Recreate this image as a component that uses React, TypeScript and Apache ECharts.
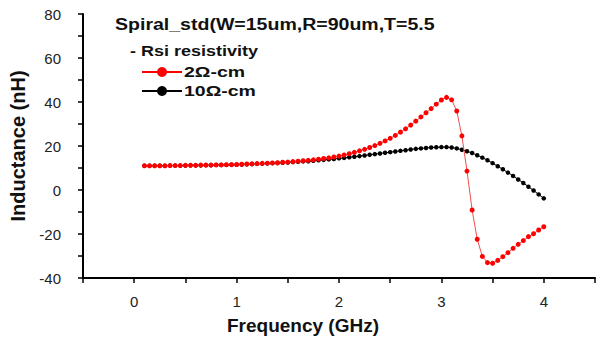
import React, { useEffect, useRef } from "react";
import * as echarts from "echarts";

const freqs = [
  0.1, 0.15, 0.2, 0.25, 0.3, 0.35, 0.4, 0.45, 0.5, 0.55,
  0.6, 0.65, 0.7, 0.75, 0.8, 0.85, 0.9, 0.95, 1.0, 1.05,
  1.1, 1.15, 1.2, 1.25, 1.3, 1.35, 1.4, 1.45, 1.5, 1.55,
  1.6, 1.65, 1.7, 1.75, 1.8, 1.85, 1.9, 1.95, 2.0, 2.05,
  2.1, 2.15, 2.2, 2.25, 2.3, 2.35, 2.4, 2.45, 2.5, 2.55,
  2.6, 2.65, 2.7, 2.75, 2.8, 2.85, 2.9, 2.95, 3.0, 3.05,
  3.1, 3.15, 3.2, 3.25, 3.3, 3.35, 3.4, 3.45, 3.5, 3.55,
  3.6, 3.65, 3.7, 3.75, 3.8, 3.85, 3.9, 3.95, 4.0,
];

// Inductance (nH), Rsi = 2 ohm-cm
const ind2 = [
  11.0, 11.0, 11.0, 11.0, 11.0, 11.1, 11.1, 11.1, 11.2, 11.2,
  11.2, 11.3, 11.3, 11.3, 11.4, 11.4, 11.5, 11.5, 11.6, 11.7,
  11.8, 11.9, 12.0, 12.1, 12.2, 12.3, 12.4, 12.6, 12.7, 12.9,
  13.1, 13.3, 13.5, 13.7, 14.0, 14.3, 14.6, 15.0, 15.4, 15.9,
  16.5, 17.1, 17.8, 18.5, 19.3, 20.2, 21.2, 22.3, 23.5, 24.8,
  26.3, 27.8, 29.5, 31.3, 33.2, 35.1, 37.0, 39.0, 40.9, 42.1,
  41.0, 35.9, 24.6, 8.6, -9.1, -22.4, -30.2, -33.0, -33.3, -32.0,
  -30.3, -28.5, -26.5, -24.7, -23.0, -21.2, -19.9, -18.2, -16.7,
];

// Inductance (nH), Rsi = 10 ohm-cm
const ind10 = [
  11.0, 11.0, 11.0, 11.0, 11.0, 11.1, 11.1, 11.1, 11.1, 11.2,
  11.2, 11.2, 11.3, 11.3, 11.4, 11.4, 11.4, 11.5, 11.5, 11.6,
  11.7, 11.8, 11.9, 12.0, 12.1, 12.2, 12.3, 12.4, 12.5, 12.7,
  12.8, 13.0, 13.1, 13.3, 13.5, 13.7, 13.9, 14.1, 14.4, 14.6,
  14.9, 15.1, 15.4, 15.7, 16.0, 16.3, 16.6, 16.9, 17.2, 17.5,
  17.8, 18.1, 18.4, 18.7, 18.9, 19.1, 19.3, 19.4, 19.5, 19.5,
  19.3, 18.9, 18.3, 17.6, 16.8, 15.8, 14.7, 13.5, 12.2, 10.8,
  9.4, 7.9, 6.4, 4.8, 3.2, 1.5, -0.2, -2.0, -3.8,
];

const seriesNames = ["2Ω-cm", "10Ω-cm"];
const titleText = "Spiral_std(W=15um,R=90um,T=5.5";
const subtitleText = "- Rsi resistivity";
const xTickLabels = [0, 1, 2, 3, 4];
const yTickLabels = [-40, -20, 0, 20, 40, 60, 80];

const FONT = "'Liberation Sans', Arial, sans-serif";

export default function App() {
  const ref = useRef<HTMLDivElement>(null);

  useEffect(() => {
    if (!ref.current) return;
    const chart = echarts.init(ref.current, undefined, { renderer: "svg" });
    const pairs = (ys: number[]) => freqs.map((f, i) => [f, ys[i]]);

    const legendItem = (y: number, color: string, label: string) => [
      {
        type: "line",
        shape: { x1: 142, y1: y, x2: 182, y2: y },
        style: { stroke: color, lineWidth: 2 },
        z: 100,
      },
      {
        type: "circle",
        shape: { cx: 162, cy: y, r: 5 },
        style: { fill: color },
        z: 101,
      },
      {
        type: "text",
        x: 184,
        y: y,
        scaleX: 1.3,
        style: {
          text: label,
          fontFamily: FONT,
          fontWeight: "bold",
          fontSize: 15,
          fill: "#111",
          verticalAlign: "middle",
          align: "left",
        },
        z: 100,
      },
    ];

    chart.setOption({
      animation: false,
      backgroundColor: "#ffffff",
      textStyle: { fontFamily: FONT },
      grid: { left: 81, right: 14, top: 14, bottom: 62, containLabel: false },
      xAxis: {
        type: "value",
        min: -0.5,
        max: 4.5,
        interval: 0.5,
        name: "Frequency (GHz)",
        nameLocation: "middle",
        nameGap: 38,
        nameTextStyle: {
          fontFamily: FONT,
          fontWeight: "bold",
          fontSize: 19,
          color: "#111",
          padding: [0, 72, 0, 0],
        },
        axisLine: { onZero: false, lineStyle: { color: "#000", width: 2 } },
        axisTick: { inside: false, length: 5, lineStyle: { color: "#000", width: 1.5 } },
        axisLabel: {
          margin: 16,
          fontSize: 15,
          color: "#222",
          fontFamily: FONT,
          formatter: (v: number) =>
            xTickLabels.indexOf(Math.round(v * 100) / 100) >= 0 ? String(Math.round(v)) : "",
        },
        splitLine: { show: false },
      },
      yAxis: {
        type: "value",
        min: -40,
        max: 80,
        interval: 10,
        name: "Inductance (nH)",
        nameLocation: "middle",
        nameGap: 55,
        nameTextStyle: {
          fontFamily: FONT,
          fontWeight: "bold",
          fontSize: 20,
          color: "#111",
        },
        axisLine: { show: true, onZero: false, lineStyle: { color: "#000", width: 2 } },
        axisTick: { show: true, inside: false, length: 5, lineStyle: { color: "#000", width: 1.5 } },
        axisLabel: {
          margin: 22,
          fontSize: 15,
          color: "#222",
          fontFamily: FONT,
          formatter: (v: number) => (yTickLabels.indexOf(v) >= 0 ? String(v) : ""),
        },
        splitLine: { show: false },
      },
      series: [
        {
          name: seriesNames[1],
          type: "line",
          data: pairs(ind10),
          symbol: "circle",
          symbolSize: 4.5,
          itemStyle: { color: "#000000" },
          lineStyle: { color: "#000000", width: 1 },
          z: 2,
        },
        {
          name: seriesNames[0],
          type: "line",
          data: pairs(ind2),
          symbol: "circle",
          symbolSize: 5,
          itemStyle: { color: "#ff0000" },
          lineStyle: { color: "#f05050", width: 1 },
          z: 3,
        },
      ],
      graphic: [
        {
          type: "text",
          x: 115,
          y: 24,
          scaleX: 1.15,
          style: {
            text: titleText,
            fontFamily: FONT,
            fontWeight: "bold",
            fontSize: 17,
            fill: "#111",
            verticalAlign: "middle",
            align: "left",
          },
          z: 100,
        },
        {
          type: "text",
          x: 130,
          y: 51,
          scaleX: 1.2,
          style: {
            text: subtitleText,
            fontFamily: FONT,
            fontWeight: "bold",
            fontSize: 15,
            fill: "#111",
            verticalAlign: "middle",
            align: "left",
          },
          z: 100,
        },
        ...legendItem(72, "#ff0000", seriesNames[0]),
        ...legendItem(91, "#000000", seriesNames[1]),
      ],
    });

    return () => chart.dispose();
  }, []);

  return (
    <div
      ref={ref}
      style={{ position: "fixed", left: 0, top: 0, width: 609, height: 340, background: "#fff" }}
    />
  );
}
